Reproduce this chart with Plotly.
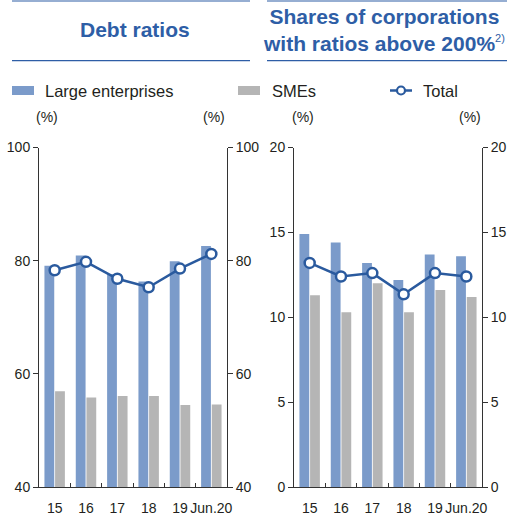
import plotly.graph_objects as go

W, H = 509, 519

categories = ["15", "16", "17", "18", "19", "Jun.20"]

# Debt ratios (%)
debt_large = [79.1, 80.9, 77.6, 76.3, 79.9, 82.6]
debt_sme = [56.9, 55.8, 56.1, 56.1, 54.5, 54.6]
debt_total = [78.3, 79.8, 76.8, 75.3, 78.6, 81.2]

# Shares of corporations with ratios above 200% (%)
share_large = [14.9, 14.4, 13.2, 12.2, 13.7, 13.6]
share_sme = [11.3, 10.3, 12.0, 10.3, 11.6, 11.2]
share_total = [13.2, 12.4, 12.6, 11.35, 12.6, 12.4]

left_ticks = [40, 60, 80, 100]
right_ticks = [0, 5, 10, 15, 20]

C_LARGE = "#7B9BCA"
C_SME = "#B5B5B5"
C_TOTAL = "#2A5A9E"
C_TITLE = "#2E5EA6"
C_TEXT = "#231F20"
C_AXIS = "#333333"
FONT = "Arial, Liberation Sans, Helvetica, sans-serif"


def px(x):
    return x / W


def py(y):
    return 1 - y / H


fig = go.Figure()

panels = [
    ("x", "y", "y2", debt_large, debt_sme, debt_total),
    ("x2", "y3", "y4", share_large, share_sme, share_total),
]
for xa, ya, ya2, lg, sm, tot in panels:
    fig.add_trace(go.Bar(x=categories, y=lg, xaxis=xa, yaxis=ya, marker_color=C_LARGE,
                         marker_line_width=0, showlegend=False, hoverinfo="skip"))
    fig.add_trace(go.Bar(x=categories, y=sm, xaxis=xa, yaxis=ya, marker_color=C_SME,
                         marker_line_width=0, showlegend=False, hoverinfo="skip"))
    fig.add_trace(go.Scatter(x=categories, y=tot, xaxis=xa, yaxis=ya, mode="lines+markers",
                             line=dict(color=C_TOTAL, width=2.5),
                             marker=dict(size=10, color="white", line=dict(color=C_TOTAL, width=2.5)),
                             showlegend=False, hoverinfo="skip", cliponaxis=False))
    # invisible trace so the right-hand mirror axis is drawn
    fig.add_trace(go.Scatter(x=categories, y=tot, xaxis=xa, yaxis=ya2, mode="lines",
                             line=dict(width=0), opacity=0, showlegend=False, hoverinfo="skip"))

ydom = [py(487), py(147.5)]
xdom1 = [px(39), px(227)]
xdom2 = [px(294), px(482)]

tickfont = dict(family=FONT, size=14, color=C_TEXT)
common_x = dict(type="category", showgrid=False, showline=True, linecolor=C_AXIS, linewidth=1,
                ticks="inside", ticklen=4, tickcolor=C_AXIS, tickson="boundaries",
                tickfont=tickfont, zeroline=False, fixedrange=True, tickangle=0,
                automargin=False, ticklabelstandoff=8)
common_y = dict(showgrid=False, showline=True, linecolor=C_AXIS, linewidth=1, ticks="outside",
                ticklen=5, tickcolor=C_AXIS, tickfont=tickfont, zeroline=False, domain=ydom,
                fixedrange=True, automargin=False)

fig.update_layout(
    width=W, height=H, autosize=False,
    margin=dict(l=0, r=0, t=0, b=0, pad=0),
    paper_bgcolor="white", plot_bgcolor="white",
    barmode="group", bargap=0.32, bargroupgap=0.08,
    showlegend=False,
    font=dict(family=FONT, color=C_TEXT),
    xaxis=dict(domain=xdom1, anchor="y", **common_x),
    xaxis2=dict(domain=xdom2, anchor="y3", **common_x),
    yaxis=dict(anchor="x", range=[40, 100], tickvals=left_ticks, side="left", **common_y),
    yaxis2=dict(anchor="x", overlaying="y", range=[40, 100], tickvals=left_ticks, side="right", **common_y),
    yaxis3=dict(anchor="x2", range=[0, 20], tickvals=right_ticks, side="left", **common_y),
    yaxis4=dict(anchor="x2", overlaying="y3", range=[0, 20], tickvals=right_ticks, side="right", **common_y),
)

shapes = []
# header rules
for x0, x1 in [(12, 250), (267, 507)]:
    shapes.append(dict(type="line", xref="paper", yref="paper", x0=px(x0), x1=px(x1),
                       y0=py(1), y1=py(1), line=dict(color=C_TITLE, width=1.2)))
    shapes.append(dict(type="line", xref="paper", yref="paper", x0=px(x0), x1=px(x1),
                       y0=py(60.7), y1=py(60.7), line=dict(color=C_TITLE, width=1.2)))
# legend keys
shapes.append(dict(type="rect", xref="paper", yref="paper", x0=px(12), x1=px(34), y0=py(95), y1=py(86),
                   fillcolor=C_LARGE, line=dict(width=0)))
shapes.append(dict(type="rect", xref="paper", yref="paper", x0=px(238), x1=px(260), y0=py(95), y1=py(86),
                   fillcolor=C_SME, line=dict(width=0)))
shapes.append(dict(type="line", xref="paper", yref="paper", x0=px(390), x1=px(412), y0=py(90.5), y1=py(90.5),
                   line=dict(color=C_TOTAL, width=2.5)))
shapes.append(dict(type="circle", xref="paper", yref="paper", x0=px(397), x1=px(405), y0=py(94.5), y1=py(86.5),
                   fillcolor="white", line=dict(color=C_TOTAL, width=2.2)))
fig.update_layout(shapes=shapes)

annotations = [
    dict(text="<b>Debt ratios</b>", x=px(135), y=py(30), xanchor="center", yanchor="middle",
         font=dict(family=FONT, size=21, color=C_TITLE)),
    dict(text="<b>Shares of corporations<br>with ratios above 200%</b>"
              "<sup><span style='font-size:11px'>2)</span></sup>", x=px(384), y=py(30),
         xanchor="center", yanchor="middle", align="center",
         font=dict(family=FONT, size=21, color=C_TITLE)),
    dict(text="Large enterprises", x=px(43), y=py(90.5), xanchor="left", yanchor="middle",
         font=dict(family=FONT, size=16.5, color=C_TEXT)),
    dict(text="SMEs", x=px(270), y=py(90.5), xanchor="left", yanchor="middle",
         font=dict(family=FONT, size=16.5, color=C_TEXT)),
    dict(text="Total", x=px(421), y=py(90.5), xanchor="left", yanchor="middle",
         font=dict(family=FONT, size=16.5, color=C_TEXT)),
]
for xc in [47, 214, 303, 470]:
    annotations.append(dict(text="(%)", x=px(xc), y=py(117.5), xanchor="center", yanchor="middle",
                            font=dict(family=FONT, size=14, color=C_TEXT)))
for a in annotations:
    a.update(xref="paper", yref="paper", showarrow=False)
fig.update_layout(annotations=annotations)

fig.write_html("out.html", config={"displayModeBar": False},
               post_script="document.body.style.margin='0';")
